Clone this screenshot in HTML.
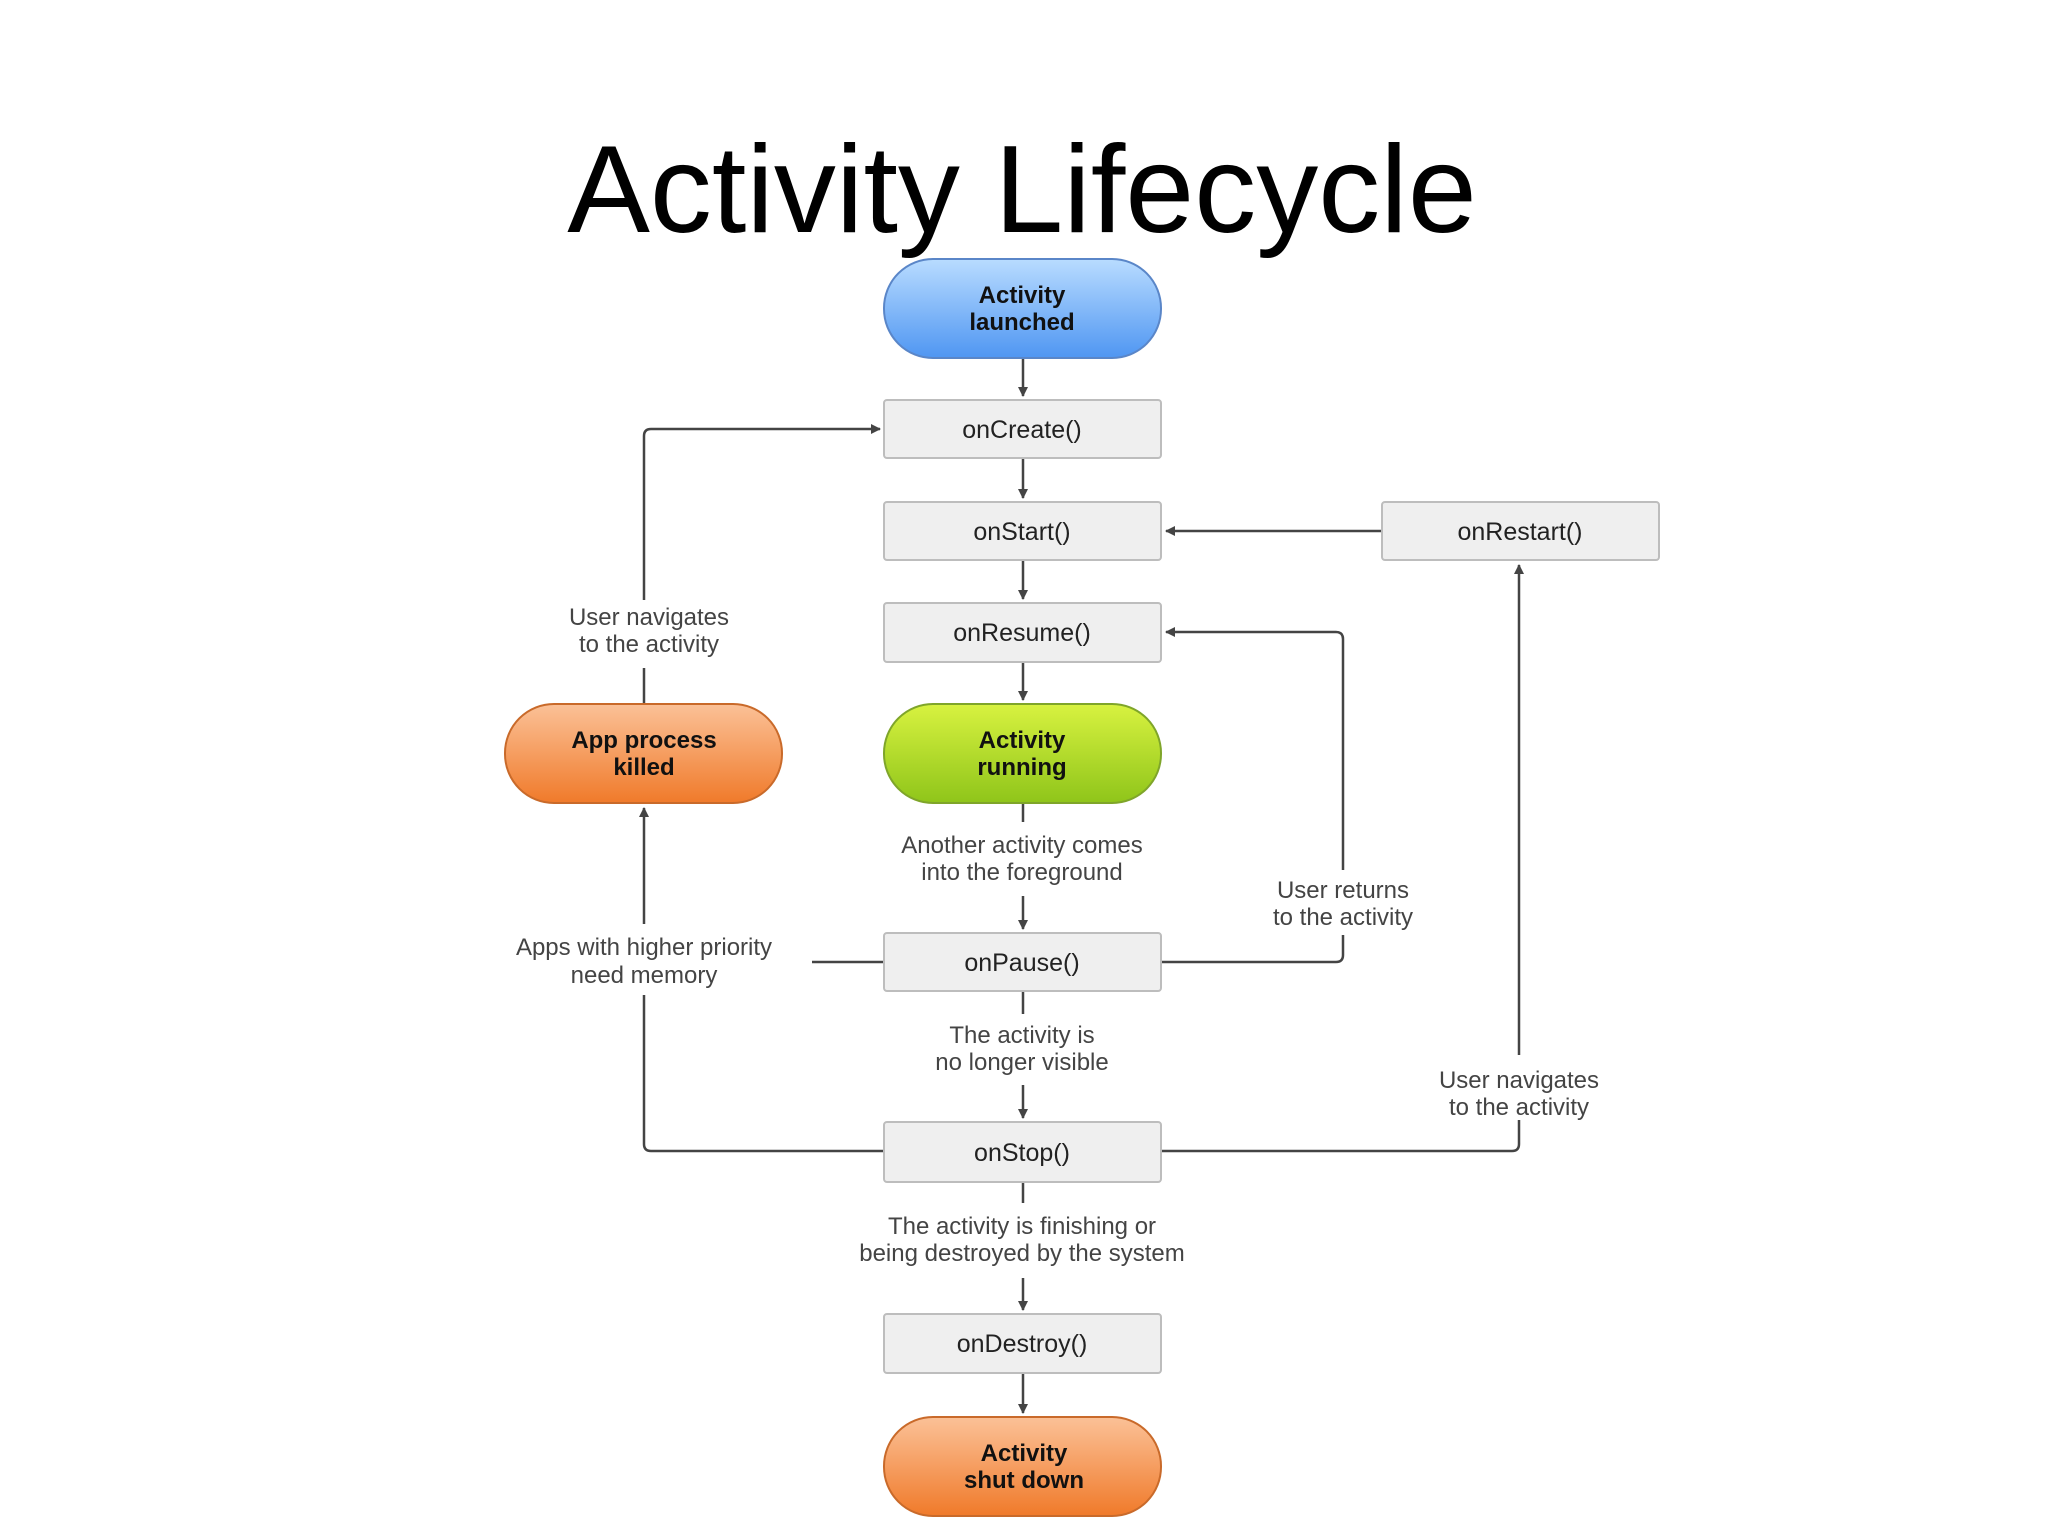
<!DOCTYPE html>
<html><head><meta charset="utf-8"><style>
html,body{margin:0;padding:0;background:#fff;}
svg{display:block}
text{font-family:"Liberation Sans",sans-serif;}
</style></head><body>
<svg width="2048" height="1535" viewBox="0 0 2048 1535" xmlns="http://www.w3.org/2000/svg">
<defs>
<marker id="a" viewBox="0 0 10 10" refX="9" refY="5" markerWidth="10" markerHeight="10" markerUnits="userSpaceOnUse" orient="auto"><path d="M0,0 L10,5 L0,10 z" fill="#444"/></marker>
<linearGradient id="blue" x1="0" y1="0" x2="0" y2="1"><stop offset="0" stop-color="#b9dcff"/><stop offset="1" stop-color="#4f96f2"/></linearGradient>
<linearGradient id="green" x1="0" y1="0" x2="0" y2="1"><stop offset="0" stop-color="#d8f240"/><stop offset="1" stop-color="#8fc51a"/></linearGradient>
<linearGradient id="orange" x1="0" y1="0" x2="0" y2="1"><stop offset="0" stop-color="#fbc197"/><stop offset="1" stop-color="#f07a2a"/></linearGradient>
</defs>
<text x="1022" y="232" font-size="124" text-anchor="middle" fill="#000">Activity Lifecycle</text>

<g stroke="#444" stroke-width="2.5" fill="none">
<!-- center arrows -->
<line x1="1023" y1="358" x2="1023" y2="396" marker-end="url(#a)"/>
<line x1="1023" y1="458" x2="1023" y2="498" marker-end="url(#a)"/>
<line x1="1023" y1="560" x2="1023" y2="599" marker-end="url(#a)"/>
<line x1="1023" y1="662" x2="1023" y2="700" marker-end="url(#a)"/>
<line x1="1023" y1="803" x2="1023" y2="822"/>
<line x1="1023" y1="896" x2="1023" y2="929" marker-end="url(#a)"/>
<line x1="1023" y1="991" x2="1023" y2="1014"/>
<line x1="1023" y1="1085" x2="1023" y2="1118" marker-end="url(#a)"/>
<line x1="1023" y1="1182" x2="1023" y2="1203"/>
<line x1="1023" y1="1278" x2="1023" y2="1310" marker-end="url(#a)"/>
<line x1="1023" y1="1373" x2="1023" y2="1413" marker-end="url(#a)"/>
<!-- left upper loop -->
<path d="M644 704 L644 668"/>
<path d="M644 600 L644 436 Q644 429 651 429 L880 429" marker-end="url(#a)"/>
<!-- left lower loop -->
<path d="M884 1151 L651 1151 Q644 1151 644 1144 L644 995"/>
<path d="M644 924 L644 808" marker-end="url(#a)"/>
<line x1="812" y1="962" x2="884" y2="962"/>
<!-- right user returns -->
<path d="M1161 962 L1336 962 Q1343 962 1343 955 L1343 935"/>
<path d="M1343 870 L1343 639 Q1343 632 1336 632 L1166 632" marker-end="url(#a)"/>
<!-- restart -->
<line x1="1382" y1="531" x2="1166" y2="531" marker-end="url(#a)"/>
<path d="M1161 1151 L1512 1151 Q1519 1151 1519 1144 L1519 1120"/>
<path d="M1519 1055 L1519 565" marker-end="url(#a)"/>
</g>

<!-- boxes -->
<g fill="#efefef" stroke="#bdbdbd" stroke-width="2">
<rect x="884" y="400" width="277" height="58" rx="3"/>
<rect x="884" y="502" width="277" height="58" rx="3"/>
<rect x="884" y="603" width="277" height="59" rx="3"/>
<rect x="884" y="933" width="277" height="58" rx="3"/>
<rect x="884" y="1122" width="277" height="60" rx="3"/>
<rect x="884" y="1314" width="277" height="59" rx="3"/>
<rect x="1382" y="502" width="277" height="58" rx="3"/>
</g>
<g font-size="25" fill="#222" text-anchor="middle">
<text x="1022" y="438">onCreate()</text>
<text x="1022" y="540">onStart()</text>
<text x="1022" y="641">onResume()</text>
<text x="1022" y="971">onPause()</text>
<text x="1022" y="1161">onStop()</text>
<text x="1022" y="1352">onDestroy()</text>
<text x="1520" y="540">onRestart()</text>
</g>

<!-- pills -->
<rect x="884" y="259" width="277" height="99" rx="49" fill="url(#blue)" stroke="#5a86c8" stroke-width="2"/>
<rect x="884" y="704" width="277" height="99" rx="49" fill="url(#green)" stroke="#7fa52a" stroke-width="2"/>
<rect x="505" y="704" width="277" height="99" rx="49" fill="url(#orange)" stroke="#c96a2a" stroke-width="2"/>
<rect x="884" y="1417" width="277" height="99" rx="49" fill="url(#orange)" stroke="#c96a2a" stroke-width="2"/>
<g font-size="24" font-weight="bold" fill="#111" text-anchor="middle">
<text x="1022" y="303">Activity</text><text x="1022" y="330">launched</text>
<text x="1022" y="748">Activity</text><text x="1022" y="775">running</text>
<text x="644" y="748">App process</text><text x="644" y="775">killed</text>
<text x="1024" y="1461">Activity</text><text x="1024" y="1488">shut down</text>
</g>

<!-- labels -->
<g font-size="24" fill="#444" text-anchor="middle">
<text x="649" y="625">User navigates</text><text x="649" y="652">to the activity</text>
<text x="1022" y="853">Another activity comes</text><text x="1022" y="880">into the foreground</text>
<text x="1343" y="898">User returns</text><text x="1343" y="925">to the activity</text>
<text x="644" y="955">Apps with higher priority</text><text x="644" y="983">need memory</text>
<text x="1022" y="1043">The activity is</text><text x="1022" y="1070">no longer visible</text>
<text x="1519" y="1088">User navigates</text><text x="1519" y="1115">to the activity</text>
<text x="1022" y="1234">The activity is finishing or</text><text x="1022" y="1261">being destroyed by the system</text>
</g>
</svg>
</body></html>
